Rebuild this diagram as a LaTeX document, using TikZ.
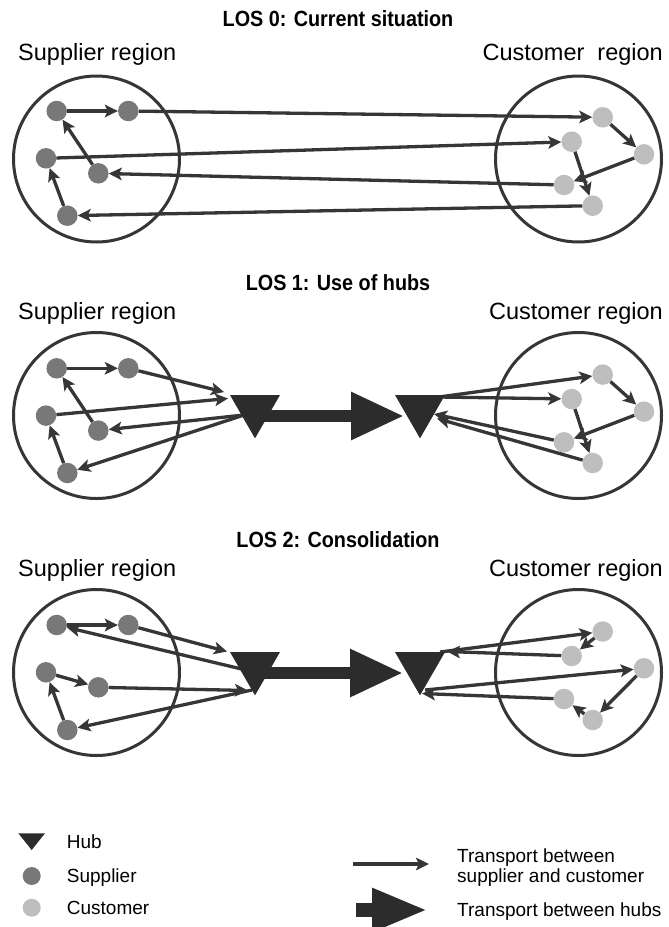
\documentclass[tikz,border=0pt]{standalone}
\usepackage{graphicx}
\usepackage{fontspec}
\setmainfont{Liberation Sans}
\usetikzlibrary{arrows.meta,shapes.geometric}
\definecolor{ln}{HTML}{363636}
\definecolor{sup}{HTML}{787878}
\definecolor{cus}{HTML}{BEBEBE}
\definecolor{hubc}{HTML}{2C2C2C}
\pgfdeclarelayer{front}
\pgfsetlayers{main,front}
\newcommand{\ttl}[1]{\scalebox{0.9}[1]{#1}}
\begin{document}
\begin{tikzpicture}[x=1pt,y=-1pt,
  conn/.style={draw=ln,line width=3.3pt,-{Stealth[length=13pt,width=12.5pt,inset=3pt]}},
  region/.style={draw=ln,line width=3pt,circle,minimum size=166pt,inner sep=0pt},
  supn/.style={circle,fill=sup,minimum size=20.5pt,inner sep=0pt},
  cusn/.style={circle,fill=cus,minimum size=20.5pt,inner sep=0pt},
  hub/.style={regular polygon,regular polygon sides=3,shape border rotate=180,fill=hubc,minimum size=57.7pt,inner sep=0pt,outer sep=0pt},
  bigarrow/.style={draw=hubc,line width=12pt,-{Triangle[length=53pt,width=45pt]}},
  title/.style={font=\fontsize{22}{26}\selectfont\bfseries,inner sep=0pt},
  lab/.style={font=\fontsize{23.5}{28}\selectfont,inner sep=0pt},
  leg/.style={font=\fontsize{19}{22}\selectfont,inner sep=0pt,anchor=base west}
]
\fill[white] (0,0) rectangle (669,927);
\useasboundingbox (0,0) rectangle (669,927);

% ---------------- LOS 0 ----------------
\node[title] (t0) at (338,19) {\ttl{LOS 0: Current situation}};
\node[lab,anchor=base west] (l0s) at (18,60) {Supplier region};
\node[lab,anchor=base east] (l0c) at (663,60) {Customer~~region};
\node[region] (r0s) at (96.5,159) {};
\node[region] (r0c) at (578.5,159) {};
\node[supn] (s0a) at (56.7,111) {};
\node[supn] (s0b) at (128.3,111) {};
\node[supn] (s0c) at (46,158.3) {};
\node[supn] (s0d) at (98.3,173.3) {};
\node[supn] (s0e) at (67.3,215.7) {};
\node[cusn] (c0p) at (602.7,117.3) {};
\node[cusn] (c0q) at (571.7,141.7) {};
\node[cusn] (c0r) at (644,154.3) {};
\node[cusn] (c0s) at (564,185) {};
\node[cusn] (c0t) at (592.7,205.7) {};
\draw[conn] (s0a) -- (s0b);
\draw[conn] (s0d) -- (s0a);
\draw[conn] (s0e) -- (s0c);
\draw[conn] (s0b) -- (c0p);
\draw[conn] (s0c) -- (c0q);
\draw[conn] (c0s) -- (s0d);
\draw[conn] (c0t) -- (s0e);
\draw[conn] (c0p) -- (c0r);
\draw[conn] (c0q) -- (c0t);
\draw[conn] (c0r) -- (c0s);

% ---------------- LOS 1 ----------------
\node[title] (t1) at (338,283) {\ttl{LOS 1: Use of hubs}};
\node[lab,anchor=base west] (l1s) at (18,319) {Supplier region};
\node[lab,anchor=base east] (l1c) at (663,319) {Customer region};
\node[region] (r1s) at (96.5,415.5) {};
\node[region] (r1c) at (578.5,415.5) {};
\node[supn] (s1a) at (56.7,368.3) {};
\node[supn] (s1b) at (128.3,368.3) {};
\node[supn] (s1c) at (46,415.6) {};
\node[supn] (s1d) at (98.3,430.6) {};
\node[supn] (s1e) at (67.3,473) {};
\node[cusn] (c1p) at (602.7,374.6) {};
\node[cusn] (c1q) at (571.7,399) {};
\node[cusn] (c1r) at (644,411.6) {};
\node[cusn] (c1s) at (564,442.3) {};
\node[cusn] (c1t) at (592.7,463) {};
\begin{pgfonlayer}{front}
\node[hub] (h1l) at (255,409.5) {};
\node[hub] (h1r) at (420,409.5) {};
\end{pgfonlayer}
\coordinate (h1l-i1) at (224,392);
\coordinate (h1l-i2) at (228,398.5);
\coordinate (h1l-o) at (244,415);
\coordinate (h1r-o) at (439,397);
\coordinate (h1r-i1) at (434,414);
\coordinate (h1r-i2) at (437,418.5);
\coordinate (h1l-s) at (262,416);
\coordinate (h1r-t) at (404,416);
\draw[conn] (s1a) -- (s1b);
\draw[conn] (s1d) -- (s1a);
\draw[conn] (s1e) -- (s1c);
\draw[conn] (s1b) -- (h1l-i1);
\draw[conn] (s1c) -- (h1l-i2);
\draw[conn] (h1l-o) -- (s1d);
\draw[conn] (h1l-o) -- (s1e);
\draw[conn] (h1r-o) -- (c1p);
\draw[conn] (h1r-o) -- (c1q);
\draw[conn] (c1s) -- (h1r-i1);
\draw[conn] (c1t) -- (h1r-i2);
\draw[conn] (c1p) -- (c1r);
\draw[conn] (c1q) -- (c1t);
\draw[conn] (c1r) -- (c1s);
\draw[bigarrow] (h1l-s) -- (h1r-t);

% ---------------- LOS 2 ----------------
\node[title] (t2) at (338,540) {\ttl{LOS 2: Consolidation}};
\node[lab,anchor=base west] (l2s) at (18,576) {Supplier region};
\node[lab,anchor=base east] (l2c) at (663,576) {Customer region};
\node[region] (r2s) at (96.5,672.5) {};
\node[region] (r2c) at (578.5,672.5) {};
\node[supn] (s2a) at (56.7,625) {};
\node[supn] (s2b) at (128.3,625) {};
\node[supn] (s2c) at (46,672.3) {};
\node[supn] (s2d) at (98.3,687.3) {};
\node[supn] (s2e) at (67.3,730) {};
\node[cusn] (c2p) at (602.7,631.5) {};
\node[cusn] (c2q) at (571.7,656) {};
\node[cusn] (c2r) at (644,668.3) {};
\node[cusn] (c2s) at (564,699) {};
\node[cusn] (c2t) at (592.7,720) {};
\begin{pgfonlayer}{front}
\node[hub] (h2l) at (255,666.5) {};
\node[hub] (h2r) at (420,666.5) {};
\end{pgfonlayer}
\coordinate (h2l-i1) at (227,651.5);
\coordinate (h2l-oa) at (250,671);
\coordinate (h2l-i2) at (248,690.5);
\coordinate (h2l-oe) at (252,690);
\coordinate (h2r-op) at (440,652);
\coordinate (h2r-iq) at (447,651.5);
\coordinate (h2r-or) at (425,690);
\coordinate (h2r-is) at (422,693.5);
\coordinate (h2l-s) at (262,673);
\coordinate (h2r-t) at (403,673);
\draw[conn] (s2a) -- (s2b);
\draw[conn] (s2c) -- (s2d);
\draw[conn] (s2e) -- (s2c);
\draw[conn] (s2b) -- (h2l-i1);
\draw[conn] (h2l-oa) -- (s2a);
\draw[conn] (s2d) -- (h2l-i2);
\draw[conn] (h2l-oe) -- (s2e);
\draw[conn] (h2r-op) -- (c2p);
\draw[conn] (c2q) -- (h2r-iq);
\draw[conn] (h2r-or) -- (c2r);
\draw[conn] (c2s) -- (h2r-is);
\draw[conn] (c2p) -- (c2q);
\draw[conn] (c2r) -- (c2t);
\draw[conn] (c2t) -- (c2s);
\draw[bigarrow] (h2l-s) -- (h2r-t);

% ---------------- Legend ----------------
\coordinate (lh1) at (18.3,833.3);
\coordinate (lh2) at (45,833.3);
\coordinate (lh3) at (31.7,850);
\fill[hubc] (lh1) -- (lh2) -- (lh3) -- cycle;
\node[supn,minimum size=18pt] (lsup) at (31.7,876) {};
\node[cusn,minimum size=18pt] (lcus) at (31.7,907.7) {};
\node[leg] (lt1) at (66.7,848) {Hub};
\node[leg] (lt2) at (66.7,882) {Supplier};
\node[leg] (lt3) at (66.7,914.5) {Customer};
\coordinate (la1) at (353,864);
\coordinate (la2) at (429,864);
\draw[conn] (la1) -- (la2);
\coordinate (lb1) at (356,910);
\coordinate (lb2) at (428,910);
\draw[draw=hubc,line width=14pt,-{Triangle[length=56pt,width=40pt]}] (lb1) -- (lb2);
\node[leg] (lt4) at (457,862) {Transport between};
\node[leg] (lt5) at (457,882) {supplier and customer};
\node[leg] (lt6) at (457,916) {Transport between hubs};
\end{tikzpicture}
\end{document}
